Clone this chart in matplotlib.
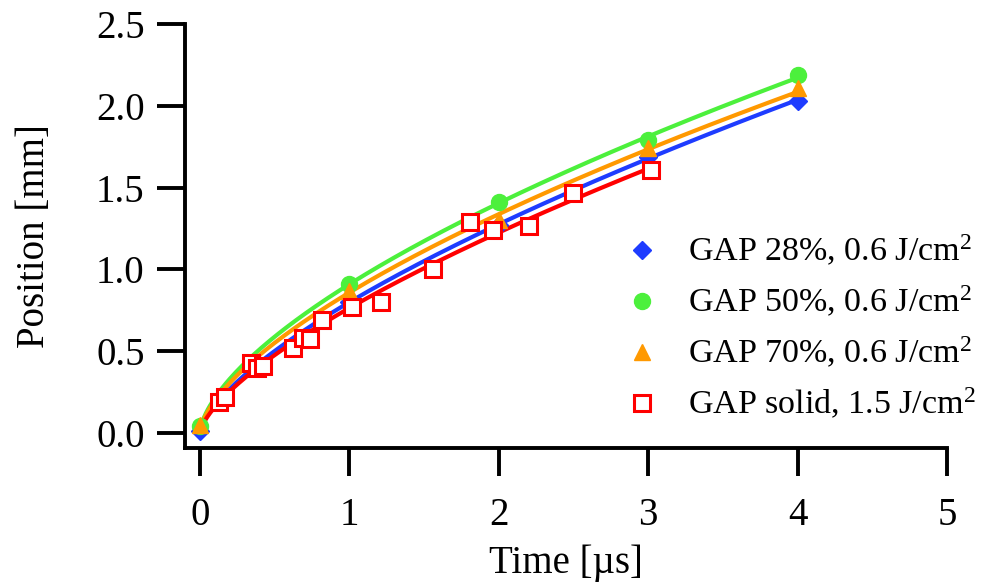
import numpy as np
import matplotlib
matplotlib.use("Agg")
import matplotlib.pyplot as plt

plt.rcParams['font.family'] = ['Liberation Serif', 'DejaVu Serif']
plt.rcParams['mathtext.fontset'] = 'custom'
plt.rcParams['mathtext.rm'] = 'Liberation Serif'
plt.rcParams['mathtext.it'] = 'Liberation Serif:italic'

# data
t_gap28 = [0, 1, 2, 3, 4]
pos_gap28 = [0.01, 0.80, 1.27, 1.69, 2.03]

t_gap50 = [0, 1, 2, 3, 4]
pos_gap50 = [0.04, 0.91, 1.41, 1.79, 2.19]

t_gap70 = [0, 1, 2, 3, 4]
pos_gap70 = [0.05, 0.87, 1.30, 1.74, 2.11]

t_solid = [0.13, 0.17, 0.34, 0.38, 0.42, 0.62, 0.69, 0.74, 0.82, 1.02,
           1.21, 1.56, 1.81, 1.96, 2.20, 2.50, 3.02]
pos_solid = [0.19, 0.22, 0.43, 0.40, 0.41, 0.52, 0.58, 0.575, 0.69, 0.77,
             0.80, 1.00, 1.29, 1.24, 1.265, 1.47, 1.61]

labels = ["GAP 28%, 0.6 J/cm$^2$", "GAP 50%, 0.6 J/cm$^2$",
          "GAP 70%, 0.6 J/cm$^2$", "GAP solid, 1.5 J/cm$^2$"]
colors = ["#1E3CFF", "#4CF03C", "#FF9900", "#FF0000"]


def power_fit(t, p):
    # fit p = a * t^b in log space, using the points with t > 0
    t = np.asarray(t, float)
    p = np.asarray(p, float)
    m = t > 0
    b, loga = np.polyfit(np.log(t[m]), np.log(p[m]), 1)
    tt = np.linspace(0, t.max(), 300)
    return tt, np.exp(loga) * tt ** b


fig = plt.figure(figsize=(9.86, 5.87), dpi=100)
ax = fig.add_axes([0.1876, 0.2368, 0.7728, 0.7222])

series = [(t_gap28, pos_gap28, 'D', 9), (t_gap50, pos_gap50, 'o', 11.5),
          (t_gap70, pos_gap70, '^', 11), (t_solid, pos_solid, 's', 11)]

for (t, p, mk, ms), lab, c in zip(series, labels, colors):
    tt, pp = power_fit(t, p)
    ax.plot(tt, pp, color=c, lw=3, zorder=2)
    if mk == 's':
        ax.plot(t, p, ls='none', marker=mk, ms=ms, mfc='white', mec=c,
                mew=2.2, label=lab, zorder=3)
    else:
        ax.plot(t, p, ls='none', marker=mk, ms=ms, color=c, mec=c,
                label=lab, zorder=3)

ax.set_xlim(-0.1, 5)
ax.set_ylim(-0.092, 2.5)
ax.set_xticks([0, 1, 2, 3, 4, 5])
ax.set_yticks([0.0, 0.5, 1.0, 1.5, 2.0, 2.5])
ax.set_yticklabels(["0.0", "0.5", "1.0", "1.5", "2.0", "2.5"])

for s in ['top', 'right']:
    ax.spines[s].set_visible(False)
for s in ['left', 'bottom']:
    ax.spines[s].set_linewidth(2.8)
ax.tick_params(direction='out', length=20, width=2.8, labelsize=28)
ax.tick_params(axis='x', pad=15)
ax.tick_params(axis='y', pad=9)

ax.set_xlabel("Time [µs]", fontsize=28, labelpad=8)
ax.set_ylabel("Position [mm]", fontsize=28, labelpad=31)

leg = ax.legend(loc='lower right', bbox_to_anchor=(1.055, 0.03), frameon=False,
                fontsize=24.5, handlelength=1.0, handletextpad=0.84,
                labelspacing=0.47, borderaxespad=0)

fig.savefig("out.png", dpi=100)
